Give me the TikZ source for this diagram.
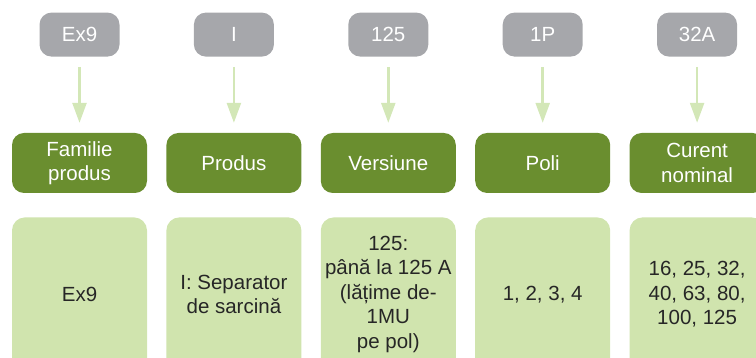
\documentclass[tikz,border=0pt]{standalone}
\usepackage{fontspec}
\setmainfont{Liberation Sans}
\usepackage{tikz}
\usetikzlibrary{positioning}
\usetikzlibrary{arrows.meta}
\definecolor{codegrey}{HTML}{A6A7AB}
\definecolor{headgreen}{HTML}{6A8E2F}
\definecolor{infogreen}{HTML}{D0E4AE}
\definecolor{arrowgreen}{HTML}{D3E7B7}
\newcommand\boxfont{\fontsize{20.5}{24.5}\selectfont}
\tikzstyle{codebox}=[rectangle,rounded corners=12pt,fill=codegrey,
text=white,minimum width=80pt,minimum height=44pt,font=\boxfont]
\tikzstyle{headbox}=[rectangle,rounded corners=12pt,fill=headgreen,
text=white,minimum width=135pt,minimum height=60pt,align=center,font=\boxfont]
\tikzstyle{infobox}=[rectangle,rounded corners=13pt,fill=infogreen,
text=black!85,minimum width=135pt,minimum height=154pt,inner sep=0pt,
align=center,font=\boxfont]
\tikzstyle{edgepath}=[-{Triangle[length=20pt,width=14pt]},line width=2.5pt,
draw=arrowgreen,shorten <=10pt,shorten >=10pt]
\def \headgap {19pt}

\begin{document}
\begin{tikzpicture}[node distance=\headgap]
        \useasboundingbox (0,0) rectangle (756pt,358pt);
        \clip (0,0) rectangle (756pt,358pt);

        \node[headbox] (fam) at (79.5pt,195pt) {Familie\\produs};
        \node[headbox, right=of fam] (prod) {Produs};
        \node[headbox, right=of prod] (vers) {Versiune};
        \node[headbox, right=of vers] (poli) {Poli};
        \node[headbox, right=of poli] (cur) {Curent\\nominal};

        \node[codebox, above=76pt of fam] (cfam) {Ex9};
        \node[codebox, above=76pt of prod] (cprod) {I};
        \node[codebox, above=76pt of vers] (cvers) {125};
        \node[codebox, above=76pt of poli] (cpoli) {1P};
        \node[codebox, above=76pt of cur] (ccur) {32A};

        \node[infobox, below=24pt of fam] (ifam) {Ex9};
        \node[infobox, below=24pt of prod] (iprod) {I: Separator\\de sarcină};
        \node[infobox, below=24pt of vers] (ivers)
            {125:\\până la 125 A\\(lățime de-\\1MU\\pe pol)};
        \node[infobox, below=24pt of poli] (ipoli) {1, 2, 3, 4};
        \node[infobox, below=24pt of cur] (icur)
            {16, 25, 32,\\40, 63, 80,\\100, 125};

        \draw[edgepath] (cfam) -- (fam);
        \draw[edgepath] (cprod) -- (prod);
        \draw[edgepath] (cvers) -- (vers);
        \draw[edgepath] (cpoli) -- (poli);
        \draw[edgepath] (ccur) -- (cur);
    \end{tikzpicture}
\end{document}
